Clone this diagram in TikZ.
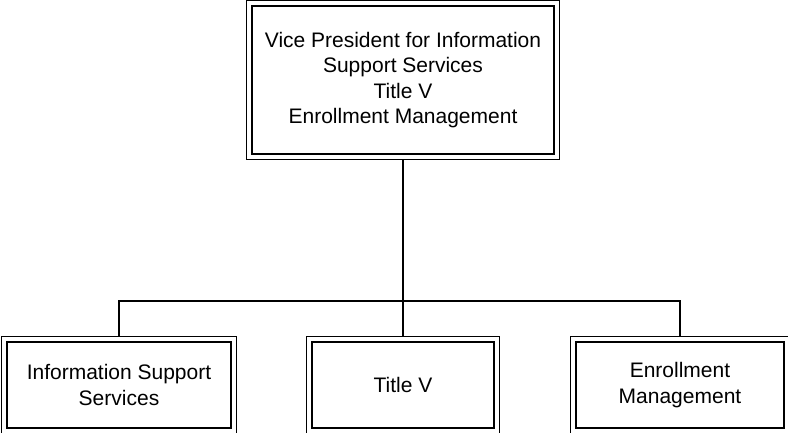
\documentclass[tikz,border=0pt]{standalone}
\usepackage{fontspec}
\setmainfont{Liberation Sans}
\usetikzlibrary{fit}
\begin{document}
\begin{tikzpicture}[x=1pt,y=-1pt,
  inbox/.style={draw, line width=1.8pt, align=center, inner sep=0pt,
    font=\fontsize{21}{25.5}\selectfont},
  outbox/.style={draw, line width=0.9pt, inner sep=4.5pt},
  conn/.style={line width=1.8pt}]
\useasboundingbox (0,0) rectangle (788,433);
\node[inbox, minimum width=302pt, minimum height=148pt] (top) at (403,80)
  {Vice President for Information\\Support Services\\Title V\\Enrollment Management};
\node[outbox, fit=(top)] (topO) {};
\node[inbox, minimum width=224pt, minimum height=86pt] (l) at (119,385)
  {Information Support\\Services};
\node[outbox, fit=(l)] (lO) {};
\node[inbox, minimum width=182pt, minimum height=86pt] (m) at (403,385)
  {Title V};
\node[outbox, fit=(m)] (mO) {};
\node[inbox, minimum width=208pt, minimum height=86pt] (r) at (680,385)
  {Enrollment\\Management};
\node[outbox, fit=(r)] (rO) {};
\coordinate (bus) at (403,301);
\draw[conn] (topO.south) -- (bus);
\draw[conn] (lO.north) -- (lO.north |- bus) -- (rO.north |- bus) -- (rO.north);
\draw[conn] (mO.north) -- (mO.north |- bus);
\end{tikzpicture}
\end{document}
